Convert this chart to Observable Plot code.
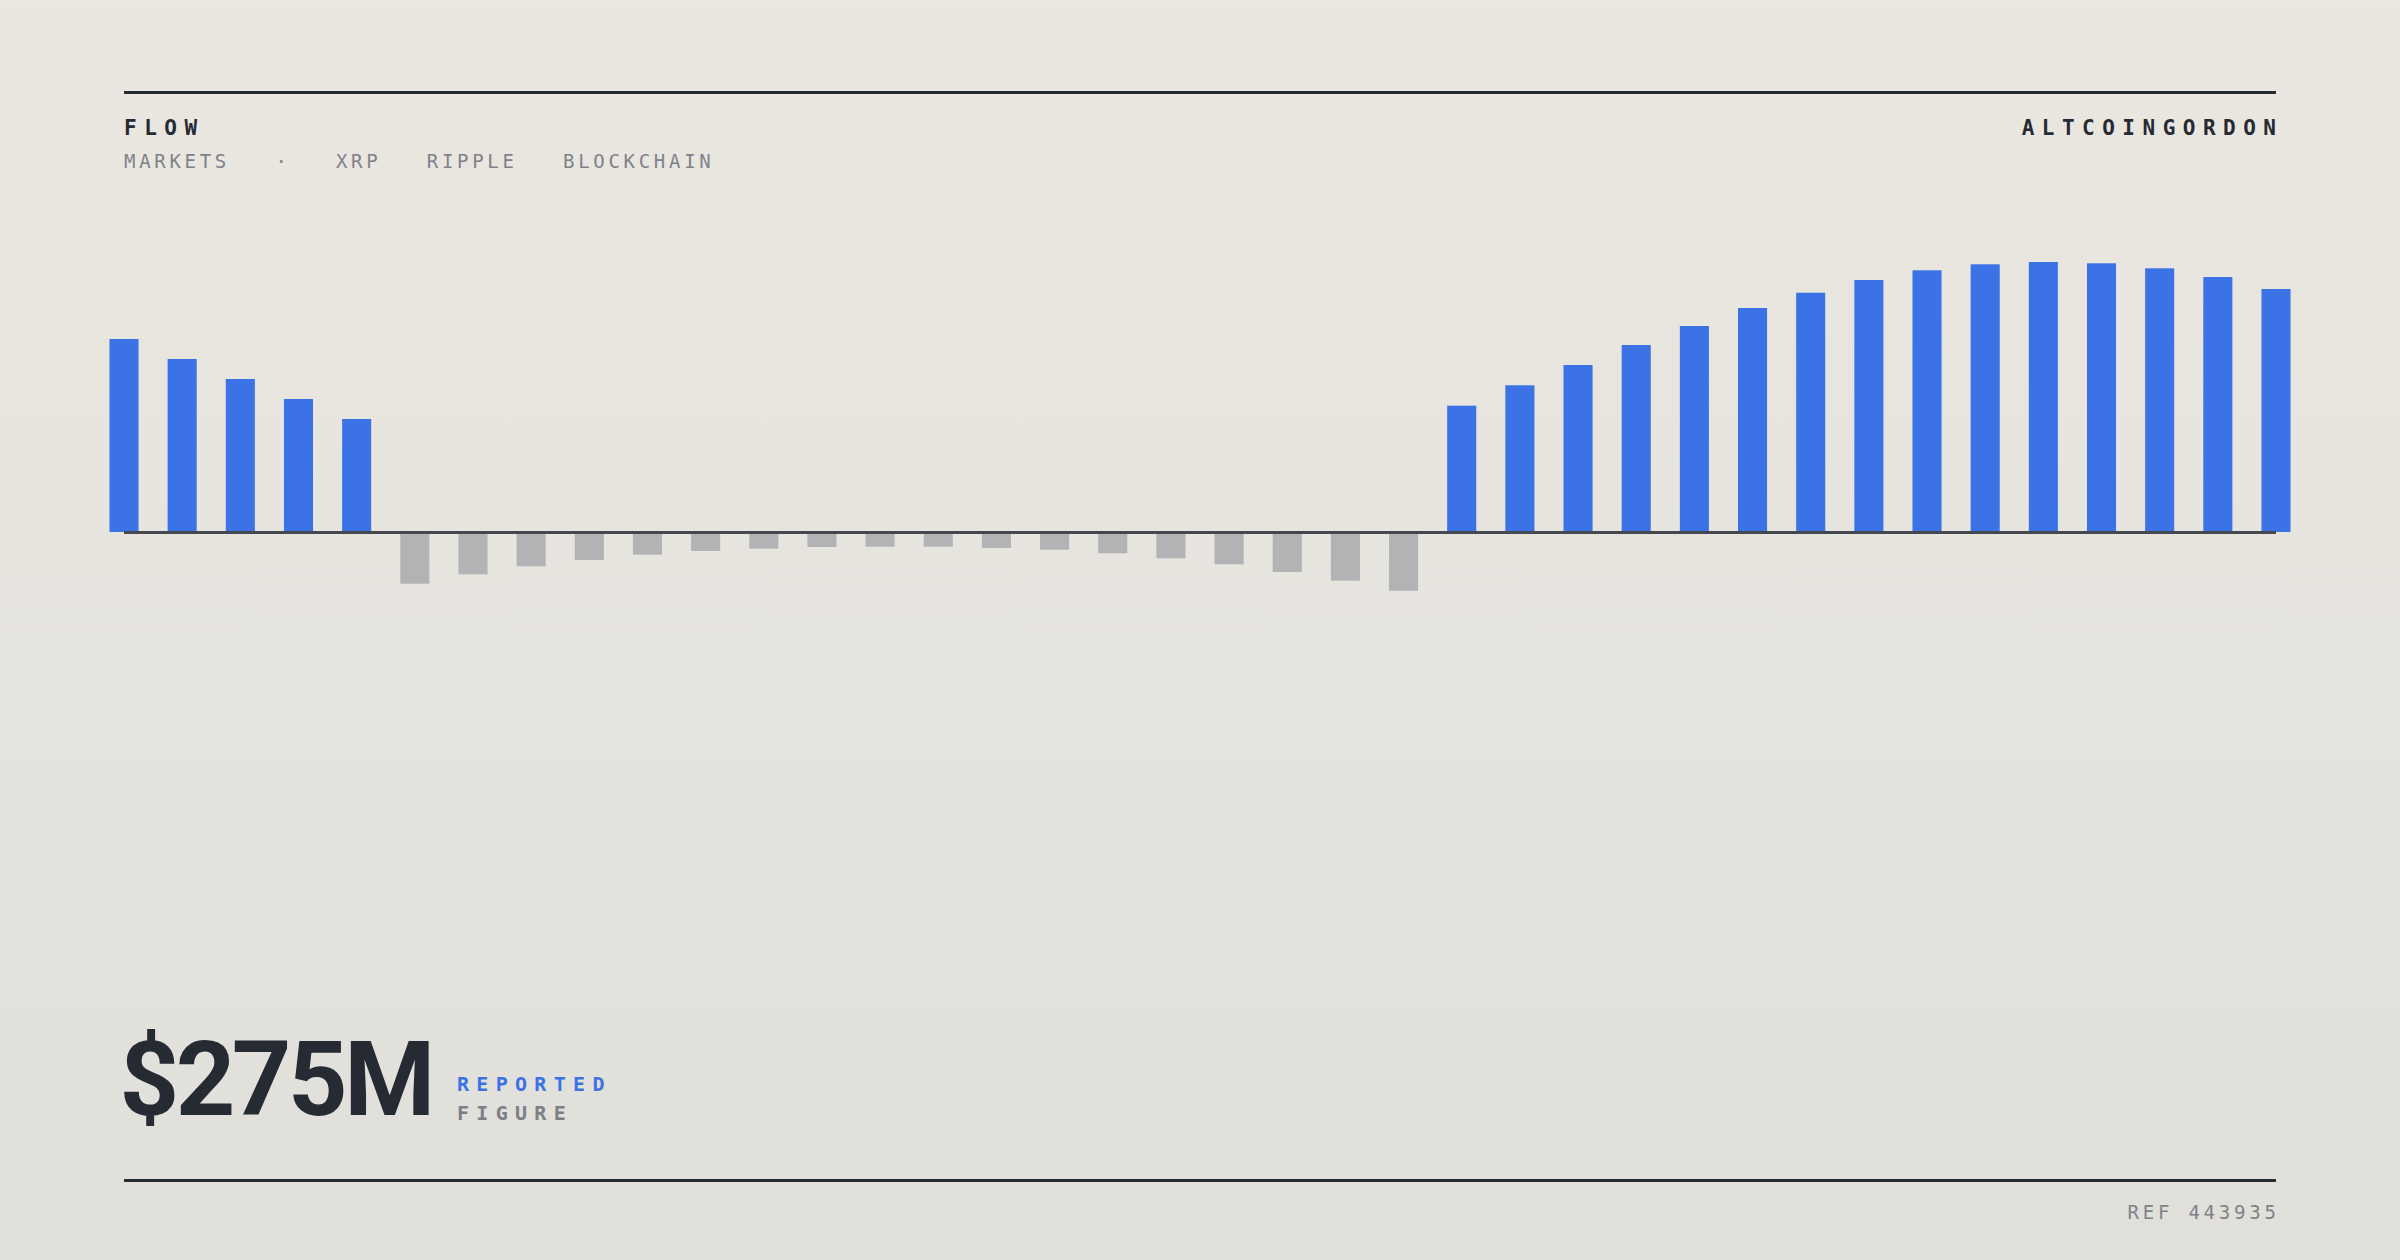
<!DOCTYPE html>
<html>
<head>
<meta charset="utf-8">
<script src="https://cdn.jsdelivr.net/npm/d3@7"></script>
<script src="https://cdn.jsdelivr.net/npm/@observablehq/plot@0.6"></script>
<style>
  html, body { margin: 0; padding: 0; }
  body { width: 2400px; height: 1260px; overflow: hidden; }
  #page {
    position: relative; width: 2400px; height: 1260px;
    background: linear-gradient(180deg, #eae7e0 0%, #e6e4de 50%, #e1dfd9 100%);
    font-family: "DejaVu Sans Mono", monospace;
  }
  .abs { position: absolute; line-height: 1; white-space: pre; }
  .rule { position: absolute; left: 124px; width: 2152px; height: 3px; background: #262a33; }
  #chart { position: absolute; left: 0; top: 232px; }
</style>
</head>
<body>
<div id="page">
  <div class="rule" style="top:91px"></div>
  <div class="abs" id="title" style="left:124px; top:117.5px; font-size:21px; font-weight:bold; letter-spacing:7.5px; color:#262a33;"></div>
  <div class="abs" id="brand" style="right:116.5px; top:117.5px; font-size:21px; font-weight:bold; letter-spacing:7.5px; color:#262a33;"></div>
  <div class="abs" id="tags" style="left:124px; top:151.5px; font-size:19px; letter-spacing:3.7px; color:#80828a;"></div>
  <div id="chart"></div>
  <div class="abs" id="big" style="left:119.5px; top:1028px; font-family:Roboto, 'Noto Sans', sans-serif; font-size:104px; font-weight:700; letter-spacing:-3.5px; color:#262a33;"></div>
  <div class="abs" id="lab1" style="left:457px; top:1073.5px; font-size:20px; font-weight:bold; letter-spacing:7.3px; color:#3b73e6;"></div>
  <div class="abs" id="lab2" style="left:457px; top:1103px; font-size:20px; font-weight:bold; letter-spacing:7.3px; color:#7d7f86;"></div>
  <div class="rule" style="top:1179px"></div>
  <div class="abs" id="ref" style="right:120.2px; top:1203px; font-size:19px; letter-spacing:3.8px; color:#80828a;"></div>
</div>
<script>
// ---- text ----
const titleText = "FLOW";
const brandText = "ALTCOINGORDON";
const tagLabels = ["MARKETS", "·", "XRP", "RIPPLE", "BLOCKCHAIN"];
const bigFigure = "$275M";
const figureLabels = ["REPORTED", "FIGURE"];
const refText = "REF 443935";

// ---- data (bar values, left to right) ----
const earlyInflow = [193, 173, 153, 133, 113];
const outflow = [-51.7, -42.3, -34.3, -28, -22.7, -19, -16.7, -15, -14.7, -14.7, -16, -17.7, -21.3, -26.3, -32.3, -40, -48.7, -58.7];
const lateInflow = [126.3, 146.7, 167, 187, 206, 224, 239.3, 252, 261.7, 267.7, 270, 268.7, 263.7, 255, 243];

const colors = { positive: "#3b73e6", negative: "#b3b3b5", axis: "#45484f" };

document.getElementById("title").textContent = titleText;
document.getElementById("brand").textContent = brandText;
document.getElementById("tags").textContent = tagLabels.join("   ");
document.getElementById("big").textContent = bigFigure;
document.getElementById("lab1").textContent = figureLabels[0];
document.getElementById("lab2").textContent = figureLabels[1];
document.getElementById("ref").textContent = refText;

const values = [...earlyInflow, ...outflow, ...lateInflow];
const data = values.map((v, i) => ({ i, v }));
const n = values.length;

const chart = Plot.plot({
  width: 2400,
  height: 400,
  marginLeft: 124,
  marginRight: 124,
  marginTop: 0,
  marginBottom: 0,
  x: { domain: [0, n - 1], axis: null },
  y: { domain: [-100, 300], axis: null },
  style: { background: "transparent", overflow: "visible" },
  marks: [
    Plot.rectY(data.filter(d => d.v >= 0), { x1: d => d.i - 0.25, x2: d => d.i + 0.25, y1: 0, y2: "v", fill: colors.positive }),
    Plot.rectY(data.filter(d => d.v < 0), { x1: d => d.i - 0.25, x2: d => d.i + 0.25, y1: 0, y2: "v", fill: colors.negative }),
    Plot.ruleY([0], { x1: 0, x2: n - 1, stroke: colors.axis, strokeWidth: 3 })
  ]
});
document.getElementById("chart").appendChild(chart);
</script>
</body>
</html>
